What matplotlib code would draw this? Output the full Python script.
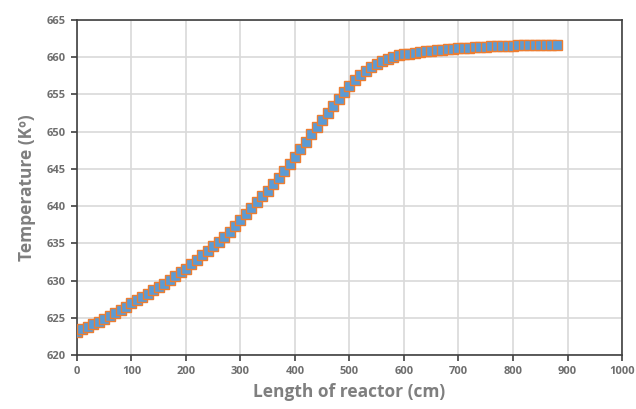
import matplotlib
matplotlib.use("agg")
import matplotlib.pyplot as plt

# reactor length (cm) and temperature (K)
length_cm = list(range(0, 890, 10))
temperature = [
    623.1, 623.45, 623.8, 624.15, 624.5, 624.9, 625.3, 625.7, 626.1, 626.5,
    626.95, 627.35, 627.8, 628.25, 628.7, 629.15, 629.6, 630.1, 630.6, 631.1,
    631.6, 632.2, 632.8, 633.4, 634.0, 634.6, 635.2, 635.85, 636.5, 637.3,
    638.1, 638.9, 639.7, 640.5, 641.3, 642.1, 642.95, 643.8, 644.75, 645.7,
    646.65, 647.65, 648.65, 649.65, 650.6, 651.6, 652.55, 653.5, 654.4, 655.35,
    656.2, 656.9, 657.6, 658.2, 658.7, 659.15, 659.5, 659.8, 660.05, 660.25,
    660.4, 660.5, 660.6, 660.7, 660.8, 660.88, 660.95, 661.02, 661.08, 661.14,
    661.2, 661.25, 661.3, 661.34, 661.38, 661.42, 661.45, 661.48, 661.51, 661.54,
    661.56, 661.58, 661.6, 661.62, 661.64, 661.66, 661.68, 661.69, 661.7,
]
x_ticks = list(range(0, 1001, 100))
y_ticks = list(range(620, 666, 5))

plt.rcParams["font.family"] = ["Open Sans", "DejaVu Sans"]

fig = plt.figure(figsize=(6.36, 4.09), dpi=100)
ax = fig.add_axes([0.121, 0.132, 0.857, 0.819])

ax.plot(length_cm, temperature, color="#ED7D31", linewidth=1.0,
        marker="s", markersize=6.5, markerfacecolor="#5B9BD5",
        markeredgecolor="#ED7D31", markeredgewidth=1.0, zorder=3)

ax.set_xlim(0, 1000)
ax.set_ylim(620, 665)
ax.set_xticks(x_ticks)
ax.set_yticks(y_ticks)
ax.grid(True, color="#D9D9D9", linewidth=1.2)
ax.set_axisbelow(True)

for spine in ax.spines.values():
    spine.set_color("#404040")
    spine.set_linewidth(1.2)

ax.tick_params(axis="both", direction="out", length=4, width=1.2,
               color="#404040", labelcolor="#6E6E6E", labelsize=8, pad=4)
for label in ax.get_xticklabels() + ax.get_yticklabels():
    label.set_fontweight("bold")

ax.set_xlabel("Length of reactor (cm)", fontsize=12.5, fontweight="bold",
              color="#7F7F7F", labelpad=4)
ax.set_ylabel("Temperature (Kº)", fontsize=12.5, fontweight="bold",
              color="#7F7F7F", labelpad=8)

fig.savefig("out.png", dpi=100)
plt.close(fig)
